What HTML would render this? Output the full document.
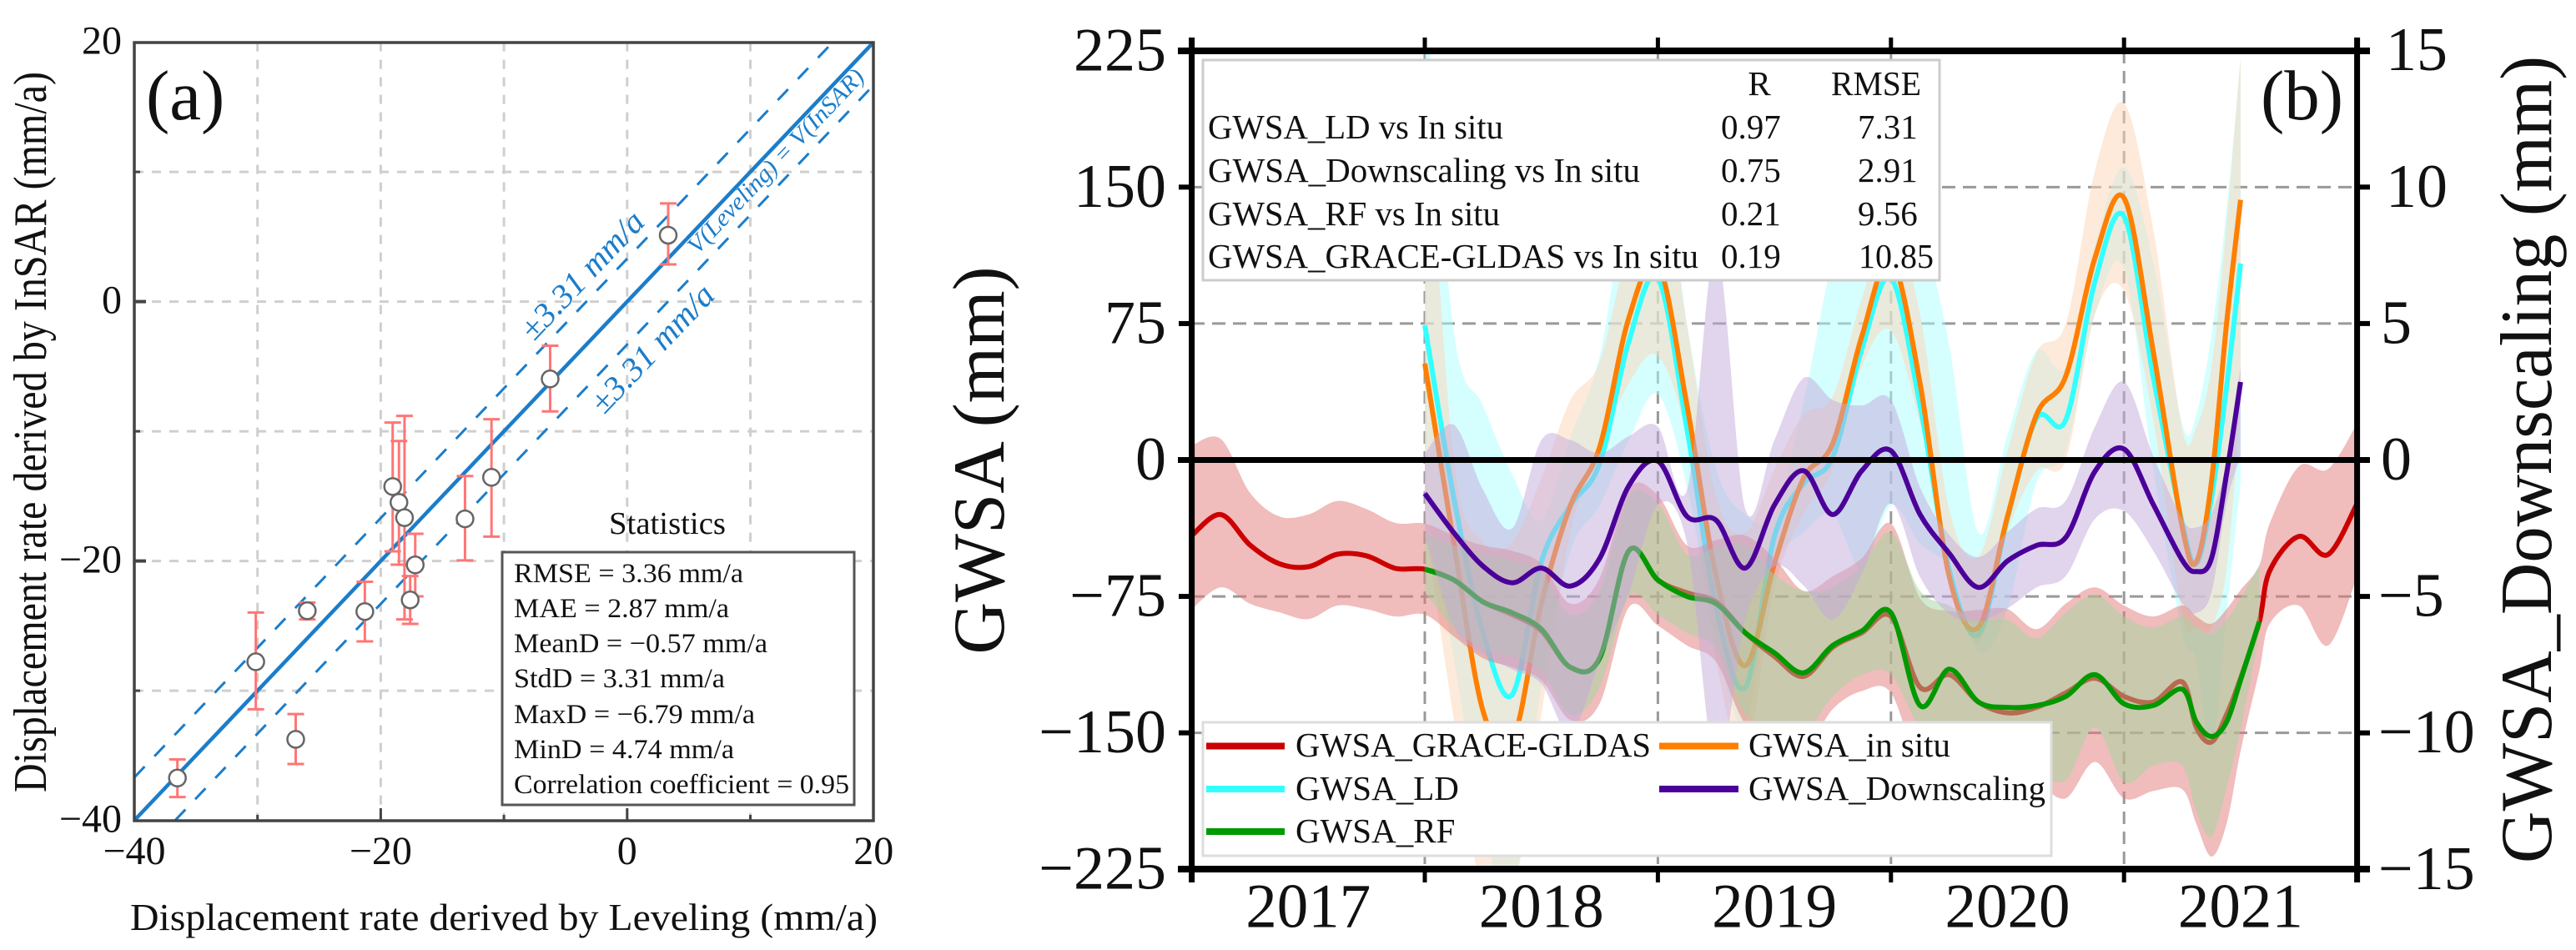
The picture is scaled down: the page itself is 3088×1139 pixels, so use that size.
<!DOCTYPE html>
<html lang="en">
<head>
<meta charset="utf-8">
<title>Displacement validation and GWSA time series</title>
<style>
html,body{margin:0;padding:0;background:#fff;}
svg{display:block;}
text{font-family:"Liberation Serif",serif;fill:#111;}
</style>
</head>
<body>
<svg id="fig" xmlns="http://www.w3.org/2000/svg" width="3088" height="1139" viewBox="0 0 3088 1139">
  <defs>
    <clipPath id="clipA"><rect x="161" y="51" width="886" height="933"/></clipPath>
    <clipPath id="clipB"><rect x="1428" y="61" width="1398" height="981"/></clipPath>
  </defs>
  <rect x="0" y="0" width="3088" height="1139" fill="#ffffff"/>

  <g id="panelA"></g>
  <g id="panelAText">
    <text x="175" y="143" font-size="85">(a)</text>
    <g transform="translate(55,950) rotate(-90)"><text x="0" y="0" font-size="56" textLength="864" lengthAdjust="spacingAndGlyphs">Displacement rate derived by InSAR (mm/a)</text></g>
    <text x="156" y="1115" font-size="46" textLength="896" lengthAdjust="spacingAndGlyphs">Displacement rate derived by Leveling (mm/a)</text>
    <g transform="translate(836,306) rotate(-46.5)"><text x="0" y="0" font-size="29" font-style="italic" style="fill:#1b7dca" textLength="293" lengthAdjust="spacingAndGlyphs">V(Leveling) = V(InSAR)</text></g>
    <g transform="translate(640,410) rotate(-46.5)"><text x="0" y="0" font-size="40" font-style="italic" style="fill:#1b7dca" textLength="196" lengthAdjust="spacingAndGlyphs">±3.31 mm/a</text></g>
    <g transform="translate(724,498) rotate(-46.5)"><text x="0" y="0" font-size="40" font-style="italic" style="fill:#1b7dca" textLength="196" lengthAdjust="spacingAndGlyphs">±3.31 mm/a</text></g>
    <text x="730" y="640" font-size="38" textLength="140" lengthAdjust="spacingAndGlyphs">Statistics</text>
    <rect x="602" y="662" width="422" height="303" fill="#ffffff" stroke="#555555" stroke-width="3"/>
    <text x="616" y="698" font-size="33" textLength="275" lengthAdjust="spacingAndGlyphs">RMSE = 3.36 mm/a</text>
    <text x="616" y="740" font-size="33" textLength="258" lengthAdjust="spacingAndGlyphs">MAE = 2.87 mm/a</text>
    <text x="616" y="782" font-size="33" textLength="304" lengthAdjust="spacingAndGlyphs">MeanD = −0.57 mm/a</text>
    <text x="616" y="824" font-size="33" textLength="253" lengthAdjust="spacingAndGlyphs">StdD = 3.31 mm/a</text>
    <text x="616" y="867" font-size="33" textLength="289" lengthAdjust="spacingAndGlyphs">MaxD = −6.79 mm/a</text>
    <text x="616" y="909" font-size="33" textLength="264" lengthAdjust="spacingAndGlyphs">MinD = 4.74 mm/a</text>
    <text x="616" y="951" font-size="33" textLength="402" lengthAdjust="spacingAndGlyphs">Correlation coefficient = 0.95</text>
  </g>

  <g id="panelB"></g>
  <g id="panelBText">
    <rect x="1442" y="72" width="883" height="264" fill="#ffffff" stroke="#cccccc" stroke-width="3"/>
    <text x="2109" y="114" font-size="41" text-anchor="middle">R</text>
    <text x="2195" y="114" font-size="41" textLength="108" lengthAdjust="spacingAndGlyphs">RMSE</text>
    <text x="1448" y="166" font-size="41" textLength="354" lengthAdjust="spacingAndGlyphs">GWSA_LD vs In situ</text>
    <text x="2063" y="166" font-size="41">0.97</text>
    <text x="2227" y="166" font-size="41">7.31</text>
    <text x="1448" y="218" font-size="41" textLength="518" lengthAdjust="spacingAndGlyphs">GWSA_Downscaling vs In situ</text>
    <text x="2063" y="218" font-size="41">0.75</text>
    <text x="2227" y="218" font-size="41">2.91</text>
    <text x="1448" y="270" font-size="41" textLength="350" lengthAdjust="spacingAndGlyphs">GWSA_RF vs In situ</text>
    <text x="2063" y="270" font-size="41">0.21</text>
    <text x="2227" y="270" font-size="41">9.56</text>
    <text x="1448" y="321" font-size="41" textLength="588" lengthAdjust="spacingAndGlyphs">GWSA_GRACE-GLDAS vs In situ</text>
    <text x="2063" y="321" font-size="41">0.19</text>
    <text x="2228" y="321" font-size="41" textLength="90" lengthAdjust="spacingAndGlyphs">10.85</text>

    <text x="2710" y="143" font-size="85">(b)</text>
    <g transform="translate(1203,784.5) rotate(-90)"><text x="0" y="0" font-size="88" textLength="465" lengthAdjust="spacingAndGlyphs">GWSA (mm)</text></g>
    <g transform="translate(3058,1035) rotate(-90)"><text x="0" y="0" font-size="88" textLength="968" lengthAdjust="spacingAndGlyphs">GWSA_Downscaling (mm)</text></g>

    <g>
      <rect x="1442" y="866" width="1017" height="160" fill="#ffffff" stroke="#dddddd" stroke-width="3"/>
      <line x1="1446" x2="1540" y1="894.5" y2="894.5" stroke="#cc0000" stroke-width="8"/>
      <text x="1553" y="907" font-size="41" textLength="426" lengthAdjust="spacingAndGlyphs">GWSA_GRACE-GLDAS</text>
      <line x1="1446" x2="1540" y1="946" y2="946" stroke="#33ffff" stroke-width="8"/>
      <text x="1553" y="959" font-size="41">GWSA_LD</text>
      <line x1="1446" x2="1540" y1="997" y2="997" stroke="#009900" stroke-width="8"/>
      <text x="1553" y="1010" font-size="41">GWSA_RF</text>
      <line x1="1989" x2="2084" y1="894.5" y2="894.5" stroke="#ff7f00" stroke-width="8"/>
      <text x="2096" y="907" font-size="41" textLength="242" lengthAdjust="spacingAndGlyphs">GWSA_in situ</text>
      <line x1="1989" x2="2084" y1="946" y2="946" stroke="#4b0099" stroke-width="8"/>
      <text x="2096" y="959" font-size="41" textLength="356" lengthAdjust="spacingAndGlyphs">GWSA_Downscaling</text>
    </g>
  </g>
</svg>

<script>
// ---------- Panel (a) data ----------
const scatterX   = [-19.03,-18.52,-18.07,-17.2,-17.61,-13.16,-11.01,-21.29,-25.96,-30.14,-26.9,-36.5,3.33,-6.25];
const scatterY   = [-14.26,-15.48,-16.66,-20.3,-23.0,-16.75,-13.55,-23.9,-23.84,-27.77,-33.75,-36.73,5.12,-5.96];
const scatterTop = [-9.33,-10.75,-8.81,-17.9,-21.16,-13.45,-9.07,-21.6,-23.2,-23.97,-31.8,-35.3,7.57,-3.4];
const scatterBot = [-19.25,-20.28,-24.5,-22.73,-24.85,-19.95,-18.12,-26.2,-24.5,-31.43,-35.65,-38.2,2.87,-8.47];
const aMajorTicks = [-40,-20,0,20];
const aMinorTicks = [-30,-10,10];
const aStdOffset = 3.31;

// ---------- Panel (b) data ----------
const leftTicks  = [225,150,75,0,-75,-150,-225];
const rightTicks = [15,10,5,0,-5,-10,-15];
const yearTicks  = [2017,2018,2019,2020,2021,2022];
const yearLabels = [2017,2018,2019,2020,2021];
const gridYears  = [2018,2019,2020,2021];
const gridLeft   = [150,75,-75,-150];

const yearsCommon = [2018,2018.125,2018.25,2018.375,2018.5,2018.625,2018.75,2018.875,2019,2019.125,2019.25,2019.375,2019.5,2019.625,2019.75,2019.875,2020,2020.125,2020.25,2020.375,2020.5,2020.625,2020.75,2020.875,2021,2021.125,2021.25,2021.31,2021.375,2021.44,2021.5];
const yearsEarly  = [2017,2017.125,2017.25,2017.375,2017.5,2017.625,2017.75,2017.875];
const yearsGreen  = yearsCommon.concat([2021.58]);
const yearsRed    = yearsEarly.concat(yearsGreen,[2021.625,2021.75,2021.875,2022]);

const insitu      = [53,-46,-138,-155,-79,-25,7,78,108,30,-64,-113,-57,-10,9,68,110,42,-64,-92,-31,25,46,111,144,60,-37,-56,-12,75,143];
const insituUpper = [220,0,-45,-45,-10,33,54,120,170,74,-20,-40,-5,25,35,89,130,80,-27,-53,5,59,75,159,196,127,17,18,51,130,221];
const insituLower = [-35,-143,-240,-240,-140,-40,5,42,57,10,-110,-160,-70,-30,-5,51,71,20,-50,-100,-40,-6,0,80,93,22,-85,-92,-92,-60,30];

const ld      = [74,-21,-95,-129,-56,-25,-2,65,100,17,-81,-125,-42,-13,1.5,61,100,30,-60,-96,-32,23,22,98,134,46,-35,-57,-21,40,108];
const ldUpper = [260,70,30,-8,-33,13,57,150,190,75,-5,-30,-30,32,110,150,170,130,63,-40,14,60,51,118,161,109,20,25,69,138,221];
const ldLower = [-20,-110,-200,-240,-125,-50,-25,11,36,-15,-100,-145,-60,-40,-30,-60,-25,-46,-60,-105,-82,-12,5,80,105,-5,-95,-110,-160,-85,-12];

const downscaling      = [-1.23,-2.67,-3.89,-4.5,-3.96,-4.62,-3.61,-0.95,-0.04,-2.07,-2.21,-3.96,-1.65,-0.39,-2,-0.39,0.34,-2,-3.42,-4.67,-3.7,-3.13,-2.84,-0.42,0.4,-1.62,-3.67,-4.09,-3.61,-0.52,2.86];
const downscalingUpper = [0.24,1.29,-1.09,-2.5,0.73,0.73,0.24,0.87,1.22,-1.09,7.7,-1.8,0.73,3,2.2,2,2.2,-1,-2.74,-3.56,-2.64,-1.78,-1.49,1.22,2.86,0.15,-2.16,-2.47,-1.97,-0.04,3.4];
const downscalingLower = [-2.77,-6.1,-7.1,-7.67,-8.2,-10,-7.4,-4.9,-1.65,-3.05,-11.3,-5.85,-3.9,-4.6,-5.85,-4.17,-1.58,-4.29,-5.64,-5.92,-5.44,-4.67,-4.25,-2.16,-1.87,-3.32,-5.25,-5.6,-4.86,-1.58,0.15];

const rf      = [-60,-66,-78,-84,-93,-114,-109,-50,-66,-75,-79,-95,-106,-117,-102,-94,-84,-135,-115,-133,-136,-135,-130,-118,-134,-135,-126,-144,-152,-144,-121,-89];
const rfUpper = [-40,-47,-52,-55,-62,-85,-72,-20,-24,-52,-48,-47,-63,-72,-70,-58,-40,-72,-80,-88,-88,-98,-84,-74,-86,-92,-86,-92,-96,-88,-76,-58];
const rfLower = [-73,-92,-104,-108,-116,-140,-125,-75,-85,-95,-104,-140,-145,-150,-130,-118,-118,-148,-165,-170,-172,-172,-176,-147,-177,-168,-168,-193,-207,-180,-148,-96];

const grace      = [-41.5,-30,-46.7,-57,-58.7,-51.8,-52.7,-59.6,-60,-66,-78,-85,-94,-114,-109,-50,-66,-73,-78,-95,-108,-119,-103,-95,-86,-125,-118,-133,-139,-136,-128,-120,-130,-133,-122,-147,-155,-140,-120,-89,-61,-42,-52,-24];
const graceUpper = [8,11.6,-18,-31,-30,-22.5,-27,-34.6,-35,-41.6,-47,-50,-57,-79,-65,-16,-19.5,-47,-44,-41.6,-54,-72,-64,-54,-35,-76,-83,-82.5,-82,-93,-79,-70,-80,-86,-80,-86,-90,-82,-71.5,-58,-35,-3.5,-5,20];
const graceLower = [-82,-70,-79,-83.7,-87.5,-80,-82,-86,-85,-97,-109,-114,-121,-143,-134,-81,-91,-102,-111,-145,-150,-160,-137,-127,-128,-170,-175,-180,-180,-178,-186,-166,-186,-182,-181,-200,-218,-200,-160,-116,-90,-80,-102,-64];

// ---------- helpers ----------
const NS = 'http://www.w3.org/2000/svg';
function make(tag, parent, attrs){
  const el = document.createElementNS(NS, tag);
  for (const k in attrs) el.setAttribute(k, attrs[k]);
  parent.appendChild(el);
  return el;
}
function xA(v){ return 161 + (v + 40) * 14.77; }
function yA(v){ return 361.6 - v * 15.55; }
function xB(t){ return 1428.6 + (t - 2017) * 279.4; }
function yL(v){ return 551.5 - v * 2.181; }
function yR(v){ return 551.5 - v * 32.72; }

function splineSegs(pts){
  let d = '';
  for (let i = 0; i < pts.length - 1; i++){
    const p0 = pts[Math.max(i - 1, 0)], p1 = pts[i], p2 = pts[i + 1], p3 = pts[Math.min(i + 2, pts.length - 1)];
    const c1x = p1[0] + (p2[0] - p0[0]) / 6, c1y = p1[1] + (p2[1] - p0[1]) / 6;
    const c2x = p2[0] - (p3[0] - p1[0]) / 6, c2y = p2[1] - (p3[1] - p1[1]) / 6;
    d += 'C' + c1x.toFixed(1) + ' ' + c1y.toFixed(1) + ' ' + c2x.toFixed(1) + ' ' + c2y.toFixed(1) + ' ' + p2[0].toFixed(1) + ' ' + p2[1].toFixed(1);
  }
  return d;
}
function linePath(ts, vs, yFn){
  const pts = ts.map((t, i) => [xB(t), yFn(vs[i])]);
  return 'M' + pts[0][0].toFixed(1) + ' ' + pts[0][1].toFixed(1) + splineSegs(pts);
}
function bandPath(ts, up, lo, yFn){
  const a = ts.map((t, i) => [xB(t), yFn(up[i])]);
  const b = ts.map((t, i) => [xB(t), yFn(lo[i])]).reverse();
  return 'M' + a[0][0].toFixed(1) + ' ' + a[0][1].toFixed(1) + splineSegs(a) +
         'L' + b[0][0].toFixed(1) + ' ' + b[0][1].toFixed(1) + splineSegs(b) + 'Z';
}

// ---------- Panel (a) ----------
const gA = document.getElementById('panelA');
const plotA = make('g', gA, {'clip-path':'url(#clipA)'});



aMajorTicks.concat(aMinorTicks).forEach(v => {
  if (v === -40 || v === 20) return;
  const gv = make('line', plotA, {x1:xA(v), x2:xA(v), y1:yA(20), y2:yA(-40), stroke:'#cfcfcf', 'stroke-width':3, 'stroke-dasharray':'11 10'});
  
  
  const gh = make('line', plotA, {x1:xA(-40), x2:xA(20), y1:yA(v), y2:yA(v), stroke:'#cfcfcf', 'stroke-width':3, 'stroke-dasharray':'11 10'});
  
  
});

const identity = make('line', plotA, {x1:xA(-40), y1:yA(-40), x2:xA(20), y2:yA(20), stroke:'#1b7dca', 'stroke-width':4.5});


const upperLine = make('line', plotA, {x1:xA(-40), y1:yA(-40 + aStdOffset), x2:xA(20 - aStdOffset), y2:yA(20), stroke:'#1b7dca', 'stroke-width':3, 'stroke-dasharray':'18 17'});


const lowerLine = make('line', plotA, {x1:xA(-40 + aStdOffset), y1:yA(-40), x2:xA(20), y2:yA(20 - aStdOffset), stroke:'#1b7dca', 'stroke-width':3, 'stroke-dasharray':'18 17'});



scatterX.forEach((x, i) => {
  const px = xA(x);
  const bar = make('path', gA, {d:'M' + px + ' ' + yA(scatterTop[i]) + 'V' + yA(scatterBot[i]) + 'M' + (px - 10) + ' ' + yA(scatterTop[i]) + 'H' + (px + 10) + 'M' + (px - 10) + ' ' + yA(scatterBot[i]) + 'H' + (px + 10), stroke:'#ff7676', 'stroke-width':3, fill:'none'});
  
  
});
scatterX.forEach((x, i) => {
  const c = make('circle', gA, {cx:xA(x), cy:yA(scatterY[i]), r:10, fill:'#ffffff', stroke:'#666666', 'stroke-width':2.5});
  
  
});

const frameA = make('rect', gA, {x:161, y:51, width:886, height:933, fill:'none', stroke:'#444444', 'stroke-width':3.5});



aMajorTicks.forEach(v => {
  if (v !== -40 && v !== 20){
    const tb = make('line', gA, {x1:xA(v), x2:xA(v), y1:984, y2:969, stroke:'#444444', 'stroke-width':3});
    
    
    const tl = make('line', gA, {x1:161, x2:175, y1:yA(v), y2:yA(v), stroke:'#444444', 'stroke-width':4});
    
    
  }
  const lx = make('text', gA, {x:xA(v), y:1036, 'font-size':48, 'text-anchor':'middle'});
  
  
  lx.textContent = String(v).replace('-', '\u2212');
  const ly = make('text', gA, {x:146, y:yA(v) + 14, 'font-size':48, 'text-anchor':'end'});
  
  
  ly.textContent = String(v).replace('-', '\u2212');
});
aMinorTicks.forEach(v => {
  const tb = make('line', gA, {x1:xA(v), x2:xA(v), y1:984, y2:977, stroke:'#444444', 'stroke-width':3});
  
  
  const tl = make('line', gA, {x1:161, x2:168, y1:yA(v), y2:yA(v), stroke:'#444444', 'stroke-width':3});
  
  
});

// ---------- Panel (b) ----------
const gB = document.getElementById('panelB');
const plotB = make('g', gB, {'clip-path':'url(#clipB)'});



gridYears.forEach(t => {
  const g = make('line', plotB, {x1:xB(t), x2:xB(t), y1:61, y2:1042, stroke:'#999999', 'stroke-width':3, 'stroke-dasharray':'15 9'});
  
  
});
gridLeft.forEach(v => {
  const g = make('line', plotB, {x1:1428, x2:2826, y1:yL(v), y2:yL(v), stroke:'#999999', 'stroke-width':3, 'stroke-dasharray':'16 9'});
  
  
});

const bandLd = make('path', plotB, {d:bandPath(yearsCommon, ldUpper, ldLower, yL), fill:'rgb(171,255,255)', 'fill-opacity':0.5});


const bandInsitu = make('path', plotB, {d:bandPath(yearsCommon, insituUpper, insituLower, yL), fill:'rgb(253,213,183)', 'fill-opacity':0.5});


const lineLd = make('path', plotB, {d:linePath(yearsCommon, ld, yL), fill:'none', stroke:'#33ffff', 'stroke-width':6});


const lineInsitu = make('path', plotB, {d:linePath(yearsCommon, insitu, yL), fill:'none', stroke:'#ff7f00', 'stroke-width':6});


const bandGrace = make('path', plotB, {d:bandPath(yearsRed, graceUpper, graceLower, yL), fill:'rgb(225,121,121)', 'fill-opacity':0.5});


const lineGrace = make('path', plotB, {d:linePath(yearsRed, grace, yL), fill:'none', stroke:'#cc0000', 'stroke-width':6});


const bandRf = make('path', plotB, {d:bandPath(yearsGreen, rfUpper, rfLower, yL), fill:'rgb(162,214,160)', 'fill-opacity':0.5});


const lineRf = make('path', plotB, {d:linePath(yearsGreen, rf, yL), fill:'none', stroke:'#009900', 'stroke-width':6});


const bandDown = make('path', plotB, {d:bandPath(yearsCommon, downscalingUpper, downscalingLower, yR), fill:'rgb(195,170,220)', 'fill-opacity':0.5});


const lineDown = make('path', plotB, {d:linePath(yearsCommon, downscaling, yR), fill:'none', stroke:'#4b0099', 'stroke-width':6});



// axes
const axisTop = make('line', gB, {x1:1412, x2:2841, y1:61, y2:61, stroke:'#000000', 'stroke-width':8});


const axisBottom = make('line', gB, {x1:1412, x2:2841, y1:1042, y2:1042, stroke:'#000000', 'stroke-width':8});


const axisLeft = make('line', gB, {x1:1428.6, x2:1428.6, y1:45, y2:1058, stroke:'#000000', 'stroke-width':7});


const axisRight = make('line', gB, {x1:2825.6, x2:2825.6, y1:45, y2:1058, stroke:'#000000', 'stroke-width':7});


const zeroLine = make('line', gB, {x1:1412, x2:2841, y1:yL(0), y2:yL(0), stroke:'#000000', 'stroke-width':7});



yearTicks.forEach(t => {
  const a = make('line', gB, {x1:xB(t), x2:xB(t), y1:45, y2:61, stroke:'#000000', 'stroke-width':5});
  
  
  const b = make('line', gB, {x1:xB(t), x2:xB(t), y1:1042, y2:1058, stroke:'#000000', 'stroke-width':5});
  
  
});
yearLabels.forEach(y => {
  const l = make('text', gB, {x:xB(y + 0.5), y:1111.5, 'font-size':75, 'text-anchor':'middle'});
  
  
  l.textContent = y;
});
leftTicks.forEach(v => {
  const t = make('line', gB, {x1:1413, x2:1428, y1:yL(v), y2:yL(v), stroke:'#000000', 'stroke-width':6});
  
  
  const l = make('text', gB, {x:1398, y:yL(v) + 23.5, 'font-size':74, 'text-anchor':'end'});
  
  
  l.textContent = String(v).replace('-', '\u2212');
});
rightTicks.forEach(v => {
  const t = make('line', gB, {x1:2826, x2:2841, y1:yR(v), y2:yR(v), stroke:'#000000', 'stroke-width':6});
  
  
  const l = make('text', gB, {x:v < 0 ? 2851 : (v >= 10 ? 2860 : 2854), y:yR(v) + 23.5, 'font-size':74});
  
  
  l.textContent = String(v).replace('-', '\u2212');
});
</script>
</body>
</html>
